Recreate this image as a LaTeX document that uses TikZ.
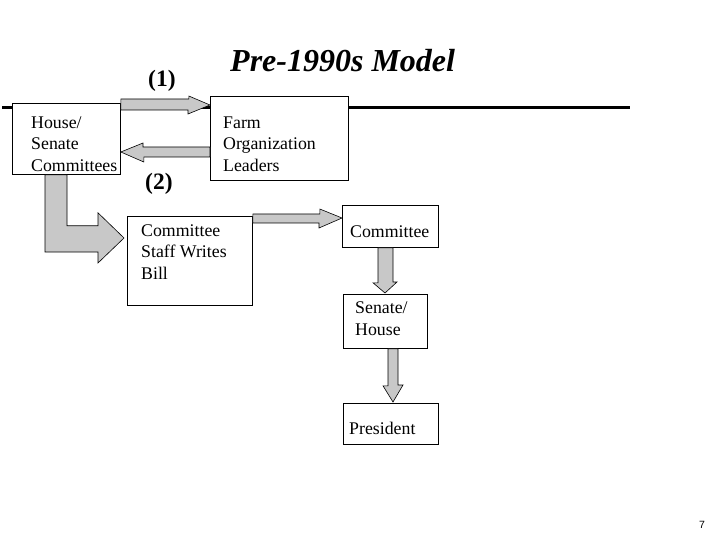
\documentclass[tikz,border=0pt]{standalone}
\usepackage{fontspec}
\setmainfont{Liberation Serif}
\setsansfont{Liberation Sans}
\usetikzlibrary{calc}
\definecolor{arrowgray}{RGB}{200,200,200}
\begin{document}
\begin{tikzpicture}[x=1pt,y=-1pt,
  box/.style={draw=black, line width=0.8pt, fill=white, inner sep=0pt, anchor=north west},
  txt/.style={font=\fontsize{17.8}{21.5}\selectfont, align=left, inner sep=0pt, anchor=base west},
  blockarrow/.style={draw=black, line width=0.6pt, fill=arrowgray, line join=miter},
  biglabel/.style={font=\bfseries\fontsize{23.5}{27}\selectfont, inner sep=0pt, anchor=base west}]
\useasboundingbox (0,0) rectangle (720,540);

% thick rule
\coordinate (lineL) at (2,107.5);
\coordinate (lineR) at (630,107.5);
\draw[line width=3.5pt] (lineL) -- (lineR);

% boxes
\node[box, minimum width=108pt, minimum height=71pt] (house) at (12,103) {};
\node[box, minimum width=138pt, minimum height=84pt] (farm) at (210,96) {};
\node[box, minimum width=125pt, minimum height=89pt] (staff) at (127,216) {};
\node[box, minimum width=96pt, minimum height=42pt] (comm) at (342,205) {};
\node[box, minimum width=84pt, minimum height=54pt] (senate) at (343,294) {};
\node[box, minimum width=95pt, minimum height=41pt] (pres) at (343,403) {};

% texts (base anchor = baseline of the last line)
\node[txt] (housetxt) at (31,171.5) {House/\\Senate\\Committees};
\node[txt] (farmtxt) at (223,171.5) {Farm\\Organization\\Leaders};
\node[txt] (stafftxt) at (141,279) {Committee\\Staff Writes\\Bill};
\node[txt] (commtxt) at (350,237) {Committee};
\node[txt] (senatetxt) at (355,335) {Senate/\\House};
\node[txt] (prestxt) at (349,434) {President};

% title and labels
\node[font=\bfseries\itshape\fontsize{32}{38}\selectfont, inner sep=0pt, anchor=base west] (title) at (230,72) {Pre-1990s Model};
\node[biglabel] (lab1) at (148,86.5) {(1)};
\node[biglabel] (lab2) at (145,190) {(2)};
\node[font=\sffamily\fontsize{10.5}{12}\selectfont, inner sep=0pt, anchor=base] (pagenum) at (702,528) {7};

% arrow (1): house -> farm
\draw[blockarrow] ($(house.north east)+(0,-4)$) -- ++(68,0) -- ++(0,-3)
  -- ($(farm.north west)+(0,9)$) -- ++(-22,9) -- ++(0,-4)
  -- ($(house.north east)+(0,7)$) -- cycle;
% arrow (2): farm -> house
\draw[blockarrow] ($(farm.north west)+(0,51)$) -- ++(-67,0) -- ++(0,-4)
  -- ($(house.north east)+(0,49)$) -- ++(23,10) -- ++(0,-5)
  -- ($(farm.north west)+(0,61)$) -- cycle;
% L arrow: house -> staff
\draw[blockarrow] ($(house.south west)+(33,0)$) -- ++(22,0) -- ++(0,51) -- ++(31,0) -- ++(0,-13)
  -- ($(staff.north west)+(-3,22)$) -- ++(-26,25) -- ++(0,-11) -- ++(-53,0) -- cycle;
% staff -> committee
\draw[blockarrow] ($(staff.north east)+(0,-2)$) -- ++(67,0) -- ++(0,-5)
  -- ($(comm.north west)+(0,13)$) -- ++(-23,10) -- ++(0,-5)
  -- ($(staff.north east)+(0,7)$) -- cycle;
% committee -> senate
\draw[blockarrow] ($(comm.south west)+(36,0)$) -- ++(0,35) -- ++(-5,0)
  -- ($(senate.north west)+(42,-1)$) -- ++(12,-11) -- ++(-4,0)
  -- ($(comm.south west)+(51,0)$) -- cycle;
% senate -> president
\draw[blockarrow] ($(senate.south west)+(45,0)$) -- ++(0,37) -- ++(-5,0)
  -- ($(pres.north west)+(50,-1)$) -- ++(10,-17) -- ++(-5,0)
  -- ($(senate.south west)+(55,0)$) -- cycle;
\end{tikzpicture}
\end{document}
